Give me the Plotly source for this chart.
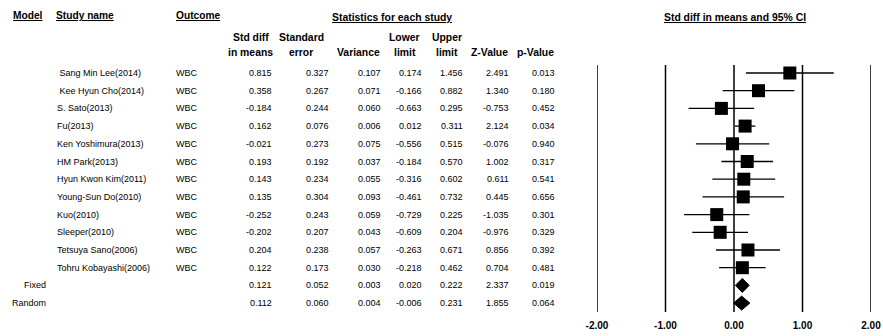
import plotly.graph_objects as go

# ---------------- data ----------------
studies = ["\u00a0Sang Min Lee(2014)", "\u00a0Kee Hyun Cho(2014)", "S. Sato(2013)", "Fu(2013)",
           "Ken Yoshimura(2013)", "HM Park(2013)", "Hyun Kwon Kim(2011)", "Young-Sun Do(2010)",
           "Kuo(2010)", "Sleeper(2010)", "Tetsuya Sano(2006)", "Tohru Kobayashi(2006)"]
outcome = ["WBC"] * 12
std_diff = [0.815, 0.358, -0.184, 0.162, -0.021, 0.193, 0.143, 0.135, -0.252, -0.202, 0.204, 0.122]
std_err = [0.327, 0.267, 0.244, 0.076, 0.273, 0.192, 0.234, 0.304, 0.243, 0.207, 0.238, 0.173]
variance = [0.107, 0.071, 0.060, 0.006, 0.075, 0.037, 0.055, 0.093, 0.059, 0.043, 0.057, 0.030]
lower = [0.174, -0.166, -0.663, 0.012, -0.556, -0.184, -0.316, -0.461, -0.729, -0.609, -0.263, -0.218]
upper = [1.456, 0.882, 0.295, 0.311, 0.515, 0.570, 0.602, 0.732, 0.225, 0.204, 0.671, 0.462]
z_value = [2.491, 1.340, -0.753, 2.124, -0.076, 1.002, 0.611, 0.445, -1.035, -0.976, 0.856, 0.704]
p_value = [0.013, 0.180, 0.452, 0.034, 0.940, 0.317, 0.541, 0.656, 0.301, 0.329, 0.392, 0.481]

models = ["Fixed", "Random"]
m_std_diff = [0.121, 0.112]
m_std_err = [0.052, 0.060]
m_variance = [0.003, 0.004]
m_lower = [0.020, -0.006]
m_upper = [0.222, 0.231]
m_z = [2.337, 1.855]
m_p = [0.019, 0.064]

col_head_top = ["Std diff", "Standard", "", "Lower", "Upper", "", ""]
col_head_bottom = ["in means", "error", "Variance", "limit", "limit", "Z-Value", "p-Value"]

tick_vals = [-2, -1, 0, 1, 2]
tick_text = ["-2.00", "-1.00", "0.00", "1.00", "2.00"]

# ---------------- layout helpers ----------------
W, H = 883, 336
BOTTOM = 22
PLOT_H = H - BOTTOM
ROW0, ROWSTEP = 73.0, 17.7          # pixel y of first row, row spacing
FONT = "Liberation Sans, Arial, sans-serif"


def py(p):
    """pixel y -> row-axis value"""
    return (p - ROW0) / ROWSTEP


def px(x):
    return x / W


annotations = []


def txt(text, x, y, anchor="left", size=9, bold=False):
    if bold:
        text = "<b>" + text + "</b>"
    annotations.append(dict(text=text, x=px(x), xref="paper", y=y, yref="y",
                            xanchor=anchor, yanchor="middle", showarrow=False,
                            borderpad=0, align="center",
                            font=dict(family=FONT, size=size, color="black")))


# headers (underlined, bold)
for t, x in [("Model", 12), ("Study name", 55), ("Outcome", 175)]:
    txt("<u><b>" + t + "</b></u>", x, py(15), anchor="left", size=10.2)
txt("<u><b>Statistics for each study</b></u>", 392, py(17), anchor="center", size=10.4)
txt("<u><b>Std diff in means and 95% CI</b></u>", 735, py(17), anchor="center", size=10.4)

head_center = [250.5, 301, 358, 404.5, 446.5, 489.5, 535]
for t1, t2, x in zip(col_head_top, col_head_bottom, head_center):
    if t1:
        txt(t1, x, py(37.5), anchor="center", size=10.4, bold=True)
    txt(t2, x, py(52.5), anchor="center", size=10.4, bold=True)

col_right = [273, 330, 382, 423, 464, 510, 556]

for i in range(len(studies)):
    txt(studies[i], 56, i)
    txt(outcome[i], 175, i)
    vals = [std_diff[i], std_err[i], variance[i], lower[i], upper[i], z_value[i], p_value[i]]
    for v, xr in zip(vals, col_right):
        txt(f"{v:.3f}", xr, i, anchor="right")

for j in range(len(models)):
    r = len(studies) + j
    txt(models[j], 47, r, anchor="right")
    vals = [m_std_diff[j], m_std_err[j], m_variance[j], m_lower[j], m_upper[j], m_z[j], m_p[j]]
    for v, xr in zip(vals, col_right):
        txt(f"{v:.3f}", xr, r, anchor="right")

# ---------------- figure ----------------
fig = go.Figure()

rows = list(range(len(studies)))
fig.add_trace(go.Scatter(
    x=std_diff, y=rows, mode="markers",
    marker=dict(symbol="square", size=13, color="black", line=dict(width=0)),
    error_x=dict(type="data", symmetric=False,
                 array=[u - e for u, e in zip(upper, std_diff)],
                 arrayminus=[e - l for e, l in zip(std_diff, lower)],
                 color="black", thickness=1.3, width=0),
    showlegend=False, hoverinfo="skip"))

half_h = 7.0 / ROWSTEP
for j in range(len(models)):
    r = len(studies) + j
    fig.add_trace(go.Scatter(
        x=[m_lower[j], m_std_diff[j], m_upper[j], m_std_diff[j], m_lower[j]],
        y=[r, r - half_h, r, r + half_h, r],
        mode="lines", fill="toself", fillcolor="black",
        line=dict(color="black", width=1), showlegend=False, hoverinfo="skip"))

shapes = []
for v in tick_vals:
    shapes.append(dict(type="line", xref="x", yref="y", x0=v, x1=v,
                       y0=py(65), y1=py(312), line=dict(color="black", width=1.5), layer="below"))

fig.update_layout(
    width=W, height=H,
    margin=dict(l=0, r=0, t=0, b=BOTTOM, autoexpand=False),
    paper_bgcolor="white", plot_bgcolor="white",
    xaxis=dict(domain=[px(597), px(871)], range=[-2, 2], showgrid=False, zeroline=False,
               showline=False, ticks="", tickvals=tick_vals, ticktext=tick_text,
               tickfont=dict(family=FONT, size=10, color="black", weight="bold"),
               ticklabelstandoff=4, automargin=False, fixedrange=True),
    yaxis=dict(domain=[0, 1], range=[py(PLOT_H), py(0)], visible=False,
               automargin=False, fixedrange=True),
    shapes=shapes,
    annotations=annotations,
    showlegend=False,
)

fig.write_html("out.html", config={"displayModeBar": False},
               post_script="document.body.style.margin='0';document.body.style.overflow='hidden';")
